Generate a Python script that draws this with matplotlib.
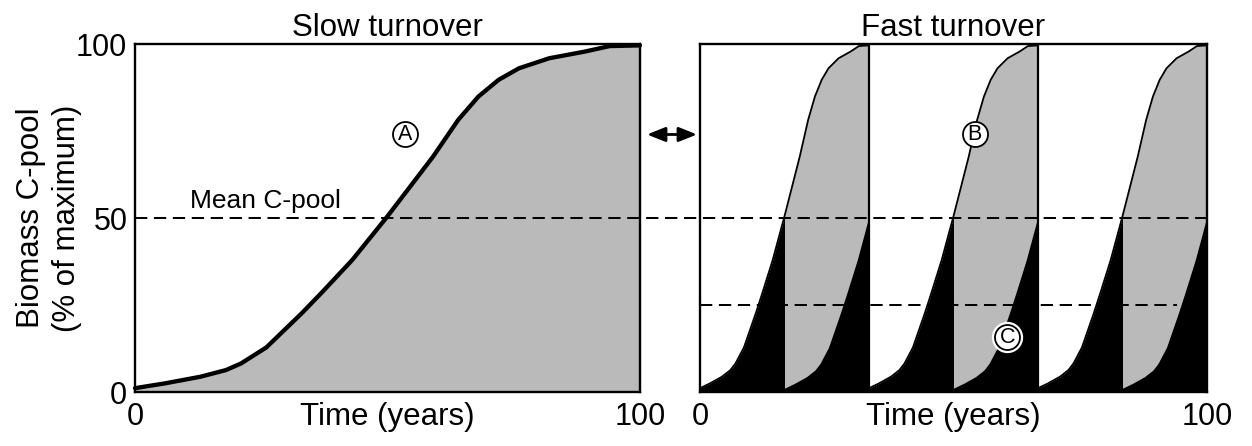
import matplotlib
matplotlib.use('Agg')
import matplotlib.pyplot as plt
import numpy as np
from matplotlib import transforms
from matplotlib.lines import Line2D
from matplotlib.patches import FancyArrowPatch

plt.rcParams['font.family'] = ['Liberation Sans', 'DejaVu Sans']

# ---- data ----
age_pct = [0, 6, 13, 18, 21, 26, 29, 33, 37, 43, 50, 53, 59, 64, 68, 72, 76, 82, 89, 94, 100]
biomass_pct = [1.1, 2.5, 4.4, 6.3, 8.2, 12.8, 17, 22.6, 28.6, 37.9, 50.5, 56.2, 67.6, 78.2,
               84.9, 89.7, 93, 95.9, 97.8, 99.4, 99.6]
slow_rotation = 100.0
fast_rotation = 100.0 / 3
n_fast_cycles = 3
mean_pool = 50
mean_young = 25
young_line_end = 94
panel_titles = ['Slow turnover', 'Fast turnover']
x_ticks = [0, 100]
y_ticks = [0, 50, 100]
x_label = 'Time (years)'
y_label = 'Biomass C-pool\n(% of maximum)'
mean_text = 'Mean C-pool'
mean_text_pos = (10.9, 52.9)
circle_labels = ['A', 'B', 'C']
circle_x = [53.5, 54.2, 60.6]
circle_y = [74, 74, 15.8]
arrow_y = 74

GRAY = '#bababa'
W, H = 1252, 446
fig = plt.figure(figsize=(W / 100, H / 100), dpi=100)
ax1 = fig.add_axes([135 / W, (H - 392) / H, 505 / W, 348 / H])
ax2 = fig.add_axes([700 / W, (H - 392) / H, 507 / W, 348 / H])

age = np.array(age_pct)
bio = np.array(biomass_pct)

FS = 22.5
for ax, title in zip([ax1, ax2], panel_titles):
    ax.set_xlim(0, 100)
    ax.set_ylim(0, 100)
    ax.set_title(title, fontsize=FS, pad=6)
    for s in ax.spines.values():
        s.set_linewidth(1.7)
        s.set_color('black')
        s.set_zorder(10)
    ax.set_xticks(x_ticks)
    ax.tick_params(length=0, labelsize=22, pad=7)
    ax.set_xlabel(x_label, fontsize=FS)
    ax.xaxis.set_label_coords(0.5, -0.029)

ax1.set_yticks(y_ticks)
ax1.tick_params(axis='y', pad=5.5)
ax2.set_yticks([])
ax1.set_ylabel(y_label, fontsize=FS, linespacing=1.25)
ax1.yaxis.set_label_coords(-0.105, 0.5)

# ---- slow turnover ----
t_slow = age / 100 * slow_rotation
ax1.fill_between(t_slow, 0, bio, color=GRAY, lw=0, zorder=1)
ax1.plot(t_slow, bio, color='black', lw=3.1, solid_joinstyle='round',
         solid_capstyle='round', zorder=3, clip_on=False)
ax1.text(mean_text_pos[0], mean_text_pos[1], mean_text, fontsize=19,
         va='baseline', ha='left', zorder=6)

# ---- fast turnover ----
first_half = age <= 50
second_half = age >= 50
for k in range(n_fast_cycles):
    t0 = k * fast_rotation
    t = t0 + age / 100 * fast_rotation
    ax2.fill_between(t[second_half], 0, bio[second_half], color=GRAY, lw=0, zorder=1)
    for off in (0, fast_rotation / 2):
        ax2.fill_between(t0 + off + age[first_half] / 100 * fast_rotation, 0,
                         bio[first_half], color='black', lw=0, zorder=2)
    ax2.plot(t, bio, color='black', lw=1.3, zorder=3, solid_joinstyle='round')
    if k > 0:
        ax2.vlines(t0, 0, 100, color='black', lw=1.6, zorder=4)

ax2.plot([0, young_line_end], [mean_young, mean_young], color='black', lw=1.45,
         linestyle=(0, (6.1, 3.3)), zorder=5)

# mean line crossing both panels
tr = transforms.blended_transform_factory(fig.transFigure, ax1.transData)
x_start = ax1.get_position().x0
x_end = ax2.get_position().x1
fig.add_artist(Line2D([x_start, x_end], [mean_pool, mean_pool], transform=tr,
                      color='black', lw=1.45, linestyle=(0, (6.1, 3.3)), zorder=20))

# double arrow between panels
x_a0 = ax1.get_position().x1 + 7 / W
x_a1 = ax2.get_position().x0 - 3 / W
fig.add_artist(FancyArrowPatch(
    (x_a0, arrow_y), (x_a1, arrow_y), transform=tr,
    arrowstyle='<|-|>,head_length=0.55,head_width=0.22', mutation_scale=20,
    color='black', lw=2.0, shrinkA=0, shrinkB=0, zorder=20))

# circled labels
for lab, cx, cy in zip(circle_labels, circle_x, circle_y):
    ax = ax1 if lab == 'A' else ax2
    if lab == 'C':
        ax.plot(cx, cy, 'o', ms=21.5, mfc='white', mec='white', zorder=7)
    ax.plot(cx, cy, 'o', ms=18, mfc='white', mec='black', mew=1.3, zorder=8)
    ax.text(cx, cy, lab, fontsize=15.5, ha='center', va='center', zorder=9)

fig.savefig('out.png', dpi=100)
